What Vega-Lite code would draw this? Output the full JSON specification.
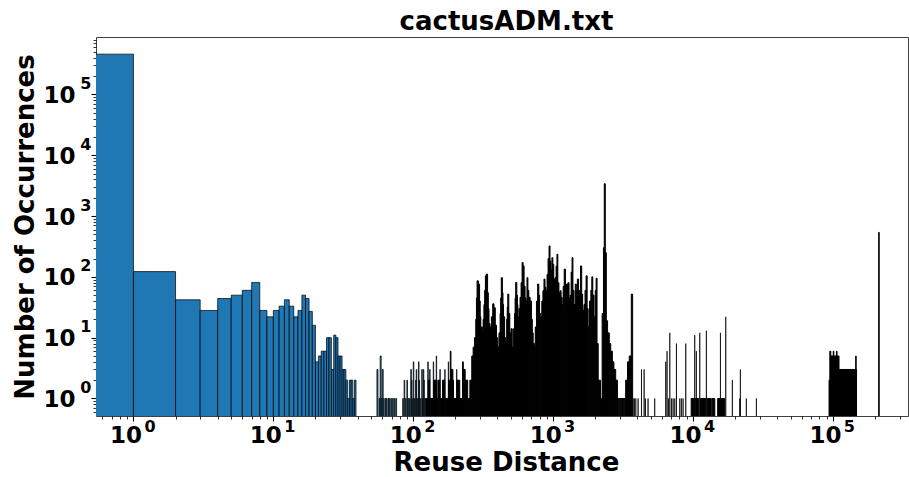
{
  "$schema": "https://vega.github.io/schema/vega-lite/v6.json",
  "width": 812,
  "height": 379,
  "autosize": {"type": "none"},
  "padding": {"left": 96, "top": 37, "right": 1, "bottom": 61},
  "background": "white",
  "config": {
    "view": {"stroke": "#404040", "strokeWidth": 1},
    "axis": {"domain": false, "grid": false, "tickColor": "black", "labelColor": "black", "titleColor": "black", "labelFont": "DejaVu Sans", "titleFont": "DejaVu Sans", "labelFontWeight": "bold", "titleFontWeight": "bold", "titleFontSize": 26, "labelOverlap": false, "labelBound": false, "labelFlush": false}
  },
  "data": {"values": [
    {"lo": 0.3, "hi": 1, "n": 460000},
    {"lo": 1, "hi": 2, "n": 122}, {"lo": 2, "hi": 3, "n": 42}, {"lo": 3, "hi": 4, "n": 28}, {"lo": 4, "hi": 5, "n": 44},
    {"lo": 5, "hi": 6, "n": 50}, {"lo": 6, "hi": 7, "n": 60}, {"lo": 7, "hi": 8, "n": 81}, {"lo": 8, "hi": 9, "n": 28},
    {"lo": 9, "hi": 10, "n": 22}, {"lo": 10, "hi": 11, "n": 28}, {"lo": 11, "hi": 12, "n": 33}, {"lo": 12, "hi": 13, "n": 42},
    {"lo": 13, "hi": 14, "n": 33}, {"lo": 14, "hi": 15, "n": 22}, {"lo": 15, "hi": 16, "n": 28}, {"lo": 16, "hi": 17, "n": 50},
    {"lo": 17, "hi": 18, "n": 44}, {"lo": 18, "hi": 19, "n": 27}, {"lo": 19, "hi": 20, "n": 16}, {"lo": 20, "hi": 21, "n": 4},
    {"lo": 21, "hi": 22, "n": 5}, {"lo": 22, "hi": 23, "n": 6}, {"lo": 23, "hi": 24, "n": 6}, {"lo": 24, "hi": 25, "n": 10},
    {"lo": 25, "hi": 26, "n": 10}, {"lo": 26, "hi": 27, "n": 3}, {"lo": 27, "hi": 28, "n": 11}, {"lo": 28, "hi": 29, "n": 10},
    {"lo": 29, "hi": 30, "n": 5}, {"lo": 30, "hi": 31, "n": 5}, {"lo": 31, "hi": 32, "n": 3}, {"lo": 32, "hi": 33, "n": 3},
    {"lo": 33, "hi": 34, "n": 2}, {"lo": 34, "hi": 35, "n": 1}, {"lo": 35, "hi": 36, "n": 2}, {"lo": 36, "hi": 37, "n": 2},
    {"lo": 37, "hi": 38, "n": 1}, {"lo": 38, "hi": 39, "n": 2},
    {"lo": 55, "hi": 56, "n": 3}, {"lo": 57, "hi": 58, "n": 1}, {"lo": 58, "hi": 59, "n": 5}, {"lo": 59, "hi": 60, "n": 1},
    {"lo": 60, "hi": 61, "n": 3}, {"lo": 61, "hi": 62, "n": 1}, {"lo": 63, "hi": 64, "n": 1}, {"lo": 64, "hi": 65, "n": 1},
    {"lo": 66, "hi": 67, "n": 1}, {"lo": 67, "hi": 68, "n": 1}, {"lo": 69, "hi": 70, "n": 1}, {"lo": 71, "hi": 72, "n": 1},
    {"lo": 73, "hi": 74, "n": 1}, {"lo": 75, "hi": 76, "n": 1}, {"lo": 84, "hi": 85, "n": 1}, {"lo": 86, "hi": 87, "n": 2},
    {"lo": 88, "hi": 89, "n": 1}, {"lo": 90, "hi": 91, "n": 2}, {"lo": 92, "hi": 93, "n": 1}, {"lo": 94, "hi": 95, "n": 1},
    {"lo": 96, "hi": 97, "n": 3}, {"lo": 97, "hi": 98, "n": 2}, {"lo": 99, "hi": 100, "n": 1}, {"lo": 100, "hi": 101, "n": 4},
    {"lo": 102, "hi": 103, "n": 1}, {"lo": 104, "hi": 105, "n": 2}, {"lo": 105, "hi": 106, "n": 3}, {"lo": 107, "hi": 108, "n": 1},
    {"lo": 109, "hi": 110, "n": 4}, {"lo": 110, "hi": 111, "n": 2}, {"lo": 112, "hi": 113, "n": 1}, {"lo": 115, "hi": 116, "n": 3},
    {"lo": 116, "hi": 117, "n": 1}, {"lo": 118, "hi": 119, "n": 3}, {"lo": 119, "hi": 120, "n": 2}, {"lo": 121, "hi": 122, "n": 1},
    {"lo": 123, "hi": 127, "n": 1}, {"lo": 127, "hi": 128, "n": 4}, {"lo": 128, "hi": 131, "n": 2}, {"lo": 131, "hi": 132, "n": 3},
    {"lo": 132, "hi": 139, "n": 1}, {"lo": 139, "hi": 140, "n": 4}, {"lo": 140, "hi": 146, "n": 2}, {"lo": 146, "hi": 147, "n": 5},
    {"lo": 147, "hi": 150, "n": 1}, {"lo": 150, "hi": 155, "n": 2}, {"lo": 155, "hi": 156, "n": 3}, {"lo": 156, "hi": 162, "n": 1},
    {"lo": 162, "hi": 168, "n": 2}, {"lo": 168, "hi": 169, "n": 3}, {"lo": 169, "hi": 178, "n": 1}, {"lo": 178, "hi": 179, "n": 4},
    {"lo": 179, "hi": 184, "n": 2}, {"lo": 184, "hi": 186, "n": 6}, {"lo": 186, "hi": 192, "n": 3}, {"lo": 192, "hi": 194, "n": 2},
    {"lo": 194, "hi": 204, "n": 1}, {"lo": 204, "hi": 205, "n": 3}, {"lo": 205, "hi": 215, "n": 2}, {"lo": 215, "hi": 225, "n": 1},
    {"lo": 225, "hi": 228, "n": 4}, {"lo": 228, "hi": 235, "n": 3}, {"lo": 235, "hi": 245, "n": 2}, {"lo": 245, "hi": 254, "n": 1},
    {"lo": 254, "hi": 262, "n": 2},
    {"lo": 262, "hi": 268, "n": 5}, {"lo": 268, "hi": 274, "n": 7}, {"lo": 274, "hi": 280, "n": 10}, {"lo": 280, "hi": 283, "n": 20},
    {"lo": 283, "hi": 286, "n": 45}, {"lo": 286, "hi": 292, "n": 86}, {"lo": 292, "hi": 298, "n": 76}, {"lo": 298, "hi": 301, "n": 40},
    {"lo": 301, "hi": 304, "n": 22}, {"lo": 304, "hi": 312, "n": 15}, {"lo": 312, "hi": 316, "n": 13}, {"lo": 316, "hi": 320, "n": 20},
    {"lo": 320, "hi": 324, "n": 35}, {"lo": 324, "hi": 328, "n": 60}, {"lo": 328, "hi": 333, "n": 104}, {"lo": 333, "hi": 340, "n": 111},
    {"lo": 340, "hi": 344, "n": 55}, {"lo": 344, "hi": 348, "n": 30}, {"lo": 348, "hi": 354, "n": 17}, {"lo": 354, "hi": 362, "n": 15},
    {"lo": 362, "hi": 370, "n": 22}, {"lo": 370, "hi": 378, "n": 36}, {"lo": 378, "hi": 386, "n": 31}, {"lo": 386, "hi": 394, "n": 16},
    {"lo": 394, "hi": 402, "n": 10}, {"lo": 402, "hi": 410, "n": 7}, {"lo": 410, "hi": 418, "n": 12}, {"lo": 418, "hi": 422, "n": 25},
    {"lo": 422, "hi": 426, "n": 45}, {"lo": 426, "hi": 434, "n": 97}, {"lo": 434, "hi": 438, "n": 55}, {"lo": 438, "hi": 442, "n": 35},
    {"lo": 442, "hi": 450, "n": 22}, {"lo": 450, "hi": 458, "n": 10}, {"lo": 458, "hi": 466, "n": 8}, {"lo": 466, "hi": 470, "n": 20},
    {"lo": 470, "hi": 474, "n": 32}, {"lo": 474, "hi": 482, "n": 52}, {"lo": 482, "hi": 490, "n": 25}, {"lo": 490, "hi": 500, "n": 12},
    {"lo": 500, "hi": 510, "n": 14}, {"lo": 510, "hi": 520, "n": 7}, {"lo": 520, "hi": 530, "n": 14}, {"lo": 530, "hi": 535, "n": 25},
    {"lo": 535, "hi": 540, "n": 45}, {"lo": 540, "hi": 550, "n": 81}, {"lo": 550, "hi": 555, "n": 50}, {"lo": 555, "hi": 560, "n": 35},
    {"lo": 560, "hi": 570, "n": 22}, {"lo": 570, "hi": 580, "n": 30}, {"lo": 580, "hi": 590, "n": 46}, {"lo": 590, "hi": 600, "n": 80},
    {"lo": 600, "hi": 610, "n": 172}, {"lo": 610, "hi": 620, "n": 151}, {"lo": 620, "hi": 630, "n": 70}, {"lo": 630, "hi": 640, "n": 45},
    {"lo": 640, "hi": 650, "n": 40}, {"lo": 650, "hi": 660, "n": 97}, {"lo": 660, "hi": 670, "n": 60}, {"lo": 670, "hi": 685, "n": 46},
    {"lo": 685, "hi": 700, "n": 40}, {"lo": 700, "hi": 710, "n": 20}, {"lo": 710, "hi": 720, "n": 12}, {"lo": 720, "hi": 735, "n": 8},
    {"lo": 735, "hi": 745, "n": 7}, {"lo": 745, "hi": 760, "n": 15}, {"lo": 760, "hi": 775, "n": 40}, {"lo": 775, "hi": 790, "n": 76},
    {"lo": 790, "hi": 800, "n": 50}, {"lo": 800, "hi": 815, "n": 25}, {"lo": 815, "hi": 830, "n": 22}, {"lo": 830, "hi": 845, "n": 40},
    {"lo": 845, "hi": 860, "n": 59}, {"lo": 860, "hi": 875, "n": 92}, {"lo": 875, "hi": 890, "n": 67}, {"lo": 890, "hi": 905, "n": 59},
    {"lo": 905, "hi": 920, "n": 110}, {"lo": 920, "hi": 935, "n": 200}, {"lo": 935, "hi": 950, "n": 322}, {"lo": 950, "hi": 965, "n": 180},
    {"lo": 965, "hi": 980, "n": 130}, {"lo": 980, "hi": 995, "n": 207}, {"lo": 995, "hi": 1010, "n": 161}, {"lo": 1010, "hi": 1030, "n": 92},
    {"lo": 1030, "hi": 1050, "n": 97}, {"lo": 1050, "hi": 1065, "n": 150}, {"lo": 1065, "hi": 1080, "n": 236}, {"lo": 1080, "hi": 1100, "n": 80},
    {"lo": 1100, "hi": 1120, "n": 55}, {"lo": 1120, "hi": 1140, "n": 59}, {"lo": 1140, "hi": 1160, "n": 46}, {"lo": 1160, "hi": 1180, "n": 35},
    {"lo": 1180, "hi": 1200, "n": 70}, {"lo": 1200, "hi": 1225, "n": 134}, {"lo": 1225, "hi": 1250, "n": 75}, {"lo": 1250, "hi": 1275, "n": 76},
    {"lo": 1275, "hi": 1300, "n": 80}, {"lo": 1300, "hi": 1325, "n": 45}, {"lo": 1325, "hi": 1345, "n": 50}, {"lo": 1345, "hi": 1365, "n": 120},
    {"lo": 1365, "hi": 1385, "n": 207}, {"lo": 1385, "hi": 1410, "n": 60}, {"lo": 1410, "hi": 1440, "n": 35}, {"lo": 1440, "hi": 1465, "n": 76},
    {"lo": 1465, "hi": 1490, "n": 60}, {"lo": 1490, "hi": 1520, "n": 92}, {"lo": 1520, "hi": 1545, "n": 50}, {"lo": 1545, "hi": 1570, "n": 60},
    {"lo": 1570, "hi": 1600, "n": 151}, {"lo": 1600, "hi": 1625, "n": 52}, {"lo": 1625, "hi": 1660, "n": 28}, {"lo": 1660, "hi": 1690, "n": 35},
    {"lo": 1690, "hi": 1720, "n": 60}, {"lo": 1720, "hi": 1750, "n": 104}, {"lo": 1750, "hi": 1780, "n": 30}, {"lo": 1780, "hi": 1820, "n": 15},
    {"lo": 1820, "hi": 1860, "n": 40}, {"lo": 1860, "hi": 1890, "n": 60}, {"lo": 1890, "hi": 1920, "n": 100}, {"lo": 1920, "hi": 1960, "n": 50},
    {"lo": 1960, "hi": 2000, "n": 22}, {"lo": 2000, "hi": 2030, "n": 60}, {"lo": 2030, "hi": 2060, "n": 95}, {"lo": 2060, "hi": 2100, "n": 8},
    {"lo": 2100, "hi": 2180, "n": 2}, {"lo": 2180, "hi": 2240, "n": 1},
    {"lo": 2240, "hi": 2290, "n": 25}, {"lo": 2290, "hi": 2320, "n": 300}, {"lo": 2320, "hi": 2360, "n": 3400}, {"lo": 2360, "hi": 2400, "n": 250},
    {"lo": 2400, "hi": 2450, "n": 19}, {"lo": 2450, "hi": 2520, "n": 12}, {"lo": 2520, "hi": 2580, "n": 8}, {"lo": 2580, "hi": 2650, "n": 6},
    {"lo": 2650, "hi": 2720, "n": 4}, {"lo": 2720, "hi": 2800, "n": 3}, {"lo": 2800, "hi": 2880, "n": 2},
    {"lo": 2880, "hi": 2950, "n": 1}, {"lo": 2970, "hi": 3050, "n": 1}, {"lo": 3070, "hi": 3200, "n": 1}, {"lo": 3220, "hi": 3300, "n": 1},
    {"lo": 3300, "hi": 3400, "n": 2}, {"lo": 3400, "hi": 3500, "n": 4}, {"lo": 3500, "hi": 3620, "n": 5}, {"lo": 3620, "hi": 3700, "n": 52},
    {"lo": 3730, "hi": 3731, "n": 1}, {"lo": 3810, "hi": 3811, "n": 1}, {"lo": 3900, "hi": 3901, "n": 1}, {"lo": 4050, "hi": 4051, "n": 1},
    {"lo": 4280, "hi": 4281, "n": 3}, {"lo": 4470, "hi": 4471, "n": 3}, {"lo": 4570, "hi": 4571, "n": 1}, {"lo": 4770, "hi": 4771, "n": 1},
    {"lo": 5320, "hi": 5321, "n": 1}, {"lo": 6380, "hi": 6381, "n": 4}, {"lo": 6520, "hi": 6521, "n": 6}, {"lo": 6670, "hi": 6671, "n": 1},
    {"lo": 6820, "hi": 6821, "n": 12}, {"lo": 7010, "hi": 7011, "n": 1}, {"lo": 7200, "hi": 7201, "n": 1}, {"lo": 7400, "hi": 7401, "n": 1},
    {"lo": 7610, "hi": 7611, "n": 8}, {"lo": 8040, "hi": 8041, "n": 1}, {"lo": 8260, "hi": 8261, "n": 1}, {"lo": 8490, "hi": 8491, "n": 1},
    {"lo": 8870, "hi": 8871, "n": 8}, {"lo": 9700, "hi": 10200, "n": 1}, {"lo": 10280, "hi": 10281, "n": 11}, {"lo": 10400, "hi": 11000, "n": 1},
    {"lo": 10560, "hi": 10561, "n": 6}, {"lo": 11170, "hi": 11171, "n": 12}, {"lo": 11300, "hi": 12300, "n": 1}, {"lo": 12460, "hi": 12461, "n": 13},
    {"lo": 12600, "hi": 13500, "n": 1}, {"lo": 13700, "hi": 14300, "n": 1}, {"lo": 15000, "hi": 15600, "n": 1}, {"lo": 15700, "hi": 15701, "n": 12},
    {"lo": 15800, "hi": 16800, "n": 1}, {"lo": 17130, "hi": 17131, "n": 22}, {"lo": 19100, "hi": 19101, "n": 2}, {"lo": 21570, "hi": 21571, "n": 1},
    {"lo": 21800, "hi": 21801, "n": 3}, {"lo": 24050, "hi": 24051, "n": 1}, {"lo": 28370, "hi": 28371, "n": 1},
    {"lo": 93800, "hi": 95000, "n": 2}, {"lo": 95000, "hi": 96500, "n": 6}, {"lo": 96500, "hi": 100500, "n": 5}, {"lo": 100500, "hi": 101500, "n": 6},
    {"lo": 101500, "hi": 106000, "n": 5}, {"lo": 106000, "hi": 107000, "n": 6}, {"lo": 107000, "hi": 110500, "n": 5}, {"lo": 110500, "hi": 145500, "n": 3},
    {"lo": 145500, "hi": 146500, "n": 5}, {"lo": 146500, "hi": 147500, "n": 3},
    {"lo": 212500, "hi": 214000, "n": 540}
  ]},
  "resolve": {"axis": {"x": "independent", "y": "independent"}},
  "layer": [
    {"transform": [{"filter": "datum.hi - datum.lo <= 1"}],
     "mark": {"type": "bar", "fill": "#1f77b4", "stroke": "#000000", "strokeWidth": 0.9, "strokeOpacity": 0.8, "clip": true},
     "encoding": {
      "x": {"field": "lo", "type": "quantitative", "title": "Reuse Distance",
        "scale": {"type": "log", "domain": [0.54, 344000], "nice": false},
        "axis": {
          "orient": "bottom",
          "values": [0.6,0.7,0.8,0.9,1,2,3,4,5,6,7,8,9,10,20,30,40,50,60,70,80,90,100,200,300,400,500,600,700,800,900,1000,2000,3000,4000,5000,6000,7000,8000,9000,10000,20000,30000,40000,50000,60000,70000,80000,90000,100000,200000,300000],
          "labelExpr": "abs(log(datum.value)/LN10 - round(log(datum.value)/LN10)) < 0.001 ? '10' : ''",
          "tickSize": {"condition": {"test": "abs(log(datum.value)/LN10 - round(log(datum.value)/LN10)) < 0.001", "value": 5}, "value": 3},
          "tickWidth": {"condition": {"test": "abs(log(datum.value)/LN10 - round(log(datum.value)/LN10)) < 0.001", "value": 1.1}, "value": 0.8},
          "labelFontSize": 23, "labelBaseline": "alphabetic", "labelPadding": 21, "labelOffset": -8,
          "titleX": 410, "titleY": 54, "titleAlign": "center", "titleBaseline": "alphabetic"
        }
      },
      "x2": {"field": "hi"},
      "y": {"field": "n", "type": "quantitative", "title": "Number of Occurrences",
        "scale": {"type": "log", "domain": [0.515, 880000], "nice": false},
        "axis": {
          "orient": "left",
          "values": [0.6,0.7,0.8,0.9,1,2,3,4,5,6,7,8,9,10,20,30,40,50,60,70,80,90,100,200,300,400,500,600,700,800,900,1000,2000,3000,4000,5000,6000,7000,8000,9000,10000,20000,30000,40000,50000,60000,70000,80000,90000,100000,200000,300000,400000,500000,600000,700000,800000],
          "labelExpr": "abs(log(datum.value)/LN10 - round(log(datum.value)/LN10)) < 0.001 ? '10' : ''",
          "tickSize": {"condition": {"test": "abs(log(datum.value)/LN10 - round(log(datum.value)/LN10)) < 0.001", "value": 5}, "value": 3},
          "tickWidth": {"condition": {"test": "abs(log(datum.value)/LN10 - round(log(datum.value)/LN10)) < 0.001", "value": 1.1}, "value": 0.8},
          "labelFontSize": 23, "labelBaseline": "middle", "labelAlign": "right", "labelPadding": 16, "labelOffset": 1,
          "titleX": -63, "titleY": 189.5, "titleAngle": 270, "titleAlign": "center", "titleBaseline": "alphabetic"
        }
      },
      "y2": {"datum": 0.1}
     }
    },
    {"transform": [{"filter": "datum.hi - datum.lo > 1"}],
     "mark": {"type": "bar", "fill": "#000000", "stroke": "#000000", "strokeWidth": 1, "clip": true},
     "encoding": {
      "x": {"field": "lo", "type": "quantitative", "title": null,
        "scale": {"type": "log", "domain": [0.54, 344000], "nice": false},
        "axis": {
          "orient": "bottom",
          "values": [1,10,100,1000,10000,100000],
          "labelExpr": "format(round(log(datum.value)/LN10), 'd')",
          "ticks": true, "tickSize": 0, "tickOpacity": 0,
          "labelFontSize": 16, "labelBaseline": "alphabetic", "labelPadding": 15, "labelOffset": 16
        }
      },
      "x2": {"field": "hi"},
      "y": {"field": "n", "type": "quantitative", "title": null,
        "scale": {"type": "log", "domain": [0.515, 880000], "nice": false},
        "axis": {
          "orient": "left",
          "values": [1,10,100,1000,10000,100000],
          "labelExpr": "format(round(log(datum.value)/LN10), 'd')",
          "ticks": true, "tickSize": 0, "tickOpacity": 0,
          "labelFontSize": 16, "labelBaseline": "middle", "labelAlign": "right", "labelPadding": 5, "labelOffset": -11
        }
      },
      "y2": {"datum": 0.1}
     }
    },
    {"transform": [{"filter": "datum.n > 1e12"}],
     "mark": {"type": "bar", "clip": true},
     "encoding": {
      "x": {"field": "lo", "type": "quantitative", "title": "cactusADM.txt",
        "scale": {"type": "log", "domain": [0.54, 344000], "nice": false},
        "axis": {"orient": "top", "labels": false, "ticks": false, "domain": false,
          "titleFontSize": 26, "titleX": 410, "titleY": -8, "titleAlign": "center", "titleBaseline": "alphabetic"}
      },
      "x2": {"field": "hi"},
      "y": {"field": "n", "type": "quantitative", "scale": {"type": "log", "domain": [0.515, 880000], "nice": false}, "axis": null},
      "y2": {"datum": 0.1}
     }
    }
  ]
}
